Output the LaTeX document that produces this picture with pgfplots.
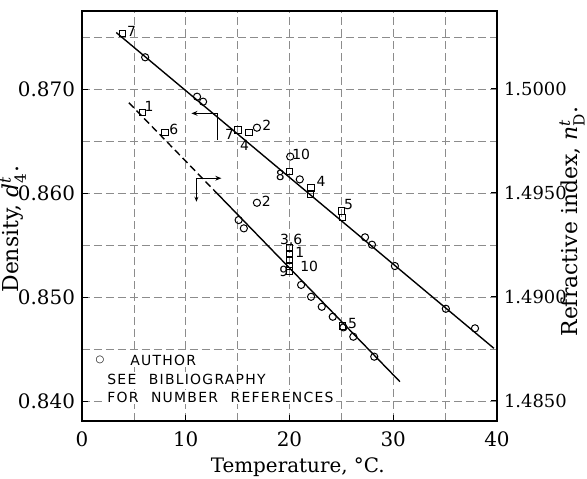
\documentclass[border=0pt]{standalone}
\usepackage{pgfplots}
\pgfplotsset{compat=1.18}
\usepackage{amsmath}
\usepackage{fontspec}
\setmainfont{DejaVu Serif}
\newfontfamily\legfont[LetterSpace=9,WordSpace=2.2]{DejaVu Sans}
\newfontfamily\numfont{DejaVu Sans}
\usetikzlibrary{arrows.meta}

% density (left axis)
\pgfplotstableread{
T d
6.09 0.87305
11.09 0.86926
11.67 0.86878
16.86 0.86628
20.07 0.86350
20.99 0.86131
27.28 0.85574
27.95 0.85503
30.16 0.85298
35.07 0.84887
37.88 0.84699
}\densauthor
\pgfplotstableread{
T d
3.88 0.87536
15.03 0.86606
16.09 0.86584
20.00 0.86208
22.08 0.86048
22.00 0.85990
25.03 0.85827
25.10 0.85766
}\denslit
% refractive index (right axis)
\pgfplotstableread{
T n
15.10 1.49370
15.60 1.49330
16.86 1.49453
21.12 1.49058
22.08 1.49001
23.11 1.48953
24.17 1.48905
25.20 1.48854
26.15 1.48809
28.17 1.48713
}\refauthor
\pgfplotstableread{
T n
5.83 1.49886
8.01 1.49792
20.00 1.49236
20.00 1.49207
20.00 1.49178
20.00 1.49149
20.00 1.49125
25.13 1.48861
}\reflit

\tikzset{
  lab/.style={font=\numfont\fontsize{7}{8}\selectfont, inner sep=0.5bp},
  key/.style={font=\legfont\fontsize{7}{8}\selectfont, fill=white, inner sep=1bp, anchor=west},
}

\begin{document}
\begin{tikzpicture}
\useasboundingbox (-41bp,-29bp) rectangle (252.5bp,210.5bp);
\pgfplotsset{
  base/.style={
    at={(0,0)}, anchor=south west,
    width=207.5bp, height=205bp, scale only axis,
    xmin=0, xmax=40,
    tick align=inside, major tick length=3bp, minor tick length=0pt,
    tick style={black, line width=0.5pt},
    axis line style={line width=1.1pt},
    tick label style={font=\fontsize{10}{12}\selectfont},
    clip=false,
  },
  sq/.style={only marks, mark=square, mark size=1.6bp, mark options={line width=0.5pt, fill=white}},
  ci/.style={only marks, mark=o, mark size=1.8bp, mark options={line width=0.5pt, fill=white}},
}
\begin{axis}[base,
  ymin=0.83808, ymax=0.8775,
  xtick={0,10,20,30,40}, minor xtick={5,15,25,35},
  ytick={0.84,0.85,0.86,0.87}, minor ytick={0.845,0.855,0.865,0.875},
  xtick pos=bottom, ytick pos=left,
  grid=both,
  major grid style={black!45, line width=0.3pt, dash pattern=on 4bp off 2bp},
  minor grid style={black!45, line width=0.3pt, dash pattern=on 4bp off 2bp},
  yticklabel style={/pgf/number format/.cd, fixed, fixed zerofill, precision=3, assume math mode=true},
  xticklabel style={/pgf/number format/assume math mode=true, yshift=-2bp},
]
\addplot[black, line width=0.7pt] coordinates {(3.3,0.87543) (39.7,0.84507)};
\addplot[ci] table[x=T,y=d] {\densauthor};
\addplot[sq] table[x=T,y=d] {\denslit};
% arrow to left scale
\draw[line width=0.5pt] (axis cs:13.1,0.86510) -- (axis cs:13.1,0.86766);
\draw[line width=0.5pt, -{Stealth[length=3bp,width=2.4bp]}] (axis cs:13.1,0.86766) -- (axis cs:10.55,0.86766);
% reference numbers
\node[lab] at (axis cs:4.78,0.87551) {7};
\node[lab] at (axis cs:14.23,0.86564) {7};
\node[lab] at (axis cs:15.67,0.86462) {4};
\node[lab] at (axis cs:17.82,0.86647) {2};
\node[lab] at (axis cs:21.13,0.86375) {10};
\node[lab] at (axis cs:19.11,0.86173) {8};
\node[lab] at (axis cs:23.05,0.86109) {4};
\node[lab] at (axis cs:25.70,0.85885) {5};
\node[lab] at (axis cs:6.47,0.86837) {1};
\node[lab] at (axis cs:8.85,0.86613) {6};
\node[lab] at (axis cs:17.76,0.85916) {2};
\node[lab] at (axis cs:20.16,0.85548) {3,6};
\node[lab] at (axis cs:21.0,0.85425) {1};
\node[lab] at (axis cs:21.9,0.85290) {10};
\node[lab] at (axis cs:19.45,0.85243) {9};
\node[lab] at (axis cs:26.09,0.84747) {5};
% key
\node[font=\numfont\fontsize{5}{6}\selectfont, inner sep=0pt] at (axis cs:1.73,0.84394) {○};
\node[key] at (axis cs:4.42,0.84394) {AUTHOR};
\node[key] at (axis cs:2.21,0.84212) {SEE BIBLIOGRAPHY};
\node[key] at (axis cs:2.21,0.84038) {FOR NUMBER REFERENCES};
% axis titles
\node[rotate=90, font=\fontsize{11}{13}\selectfont] at ([xshift=-34.5bp]rel axis cs:0,0.468) {Density, \textit{d}$^{\textit{t}}_{\text{4}}$.};
\node[rotate=90, font=\fontsize{11}{13}\selectfont] at ([xshift=37.5bp]rel axis cs:1,0.487) {Refractive index, \textit{n}$^{\textit{t}}_{\text{D}}$.};
\node[font=\fontsize{10}{12}\selectfont] at ([yshift=-23bp]rel axis cs:0.52,0) {Temperature, °C.};
\end{axis}
\begin{axis}[base,
  ymin=1.484038, ymax=1.50375,
  axis x line=none, axis y line*=right,
  ytick={1.485,1.49,1.495,1.5},
  yticklabel style={font=\fontsize{9}{11}\selectfont, /pgf/number format/.cd, fixed, fixed zerofill, precision=4, assume math mode=true},
]
\addplot[black, line width=0.7pt, dash pattern=on 3.5bp off 2bp] coordinates {(4.52,1.49934) (13.0,1.49499)};
\addplot[black, line width=0.7pt] coordinates {(13.0,1.49499) (30.64,1.48593)};
\addplot[ci] table[x=T,y=n] {\refauthor};
\addplot[sq] table[x=T,y=n] {\reflit};
% arrow to right scale
\draw[line width=0.5pt, -{Stealth[length=2.5bp,width=2bp]}] (axis cs:11.03,1.49571) -- (axis cs:11.03,1.49458);
\draw[line width=0.5pt, -{Stealth[length=3bp,width=2.4bp]}] (axis cs:11.03,1.49571) -- (axis cs:13.43,1.49571);
\end{axis}
\end{tikzpicture}
\end{document}
